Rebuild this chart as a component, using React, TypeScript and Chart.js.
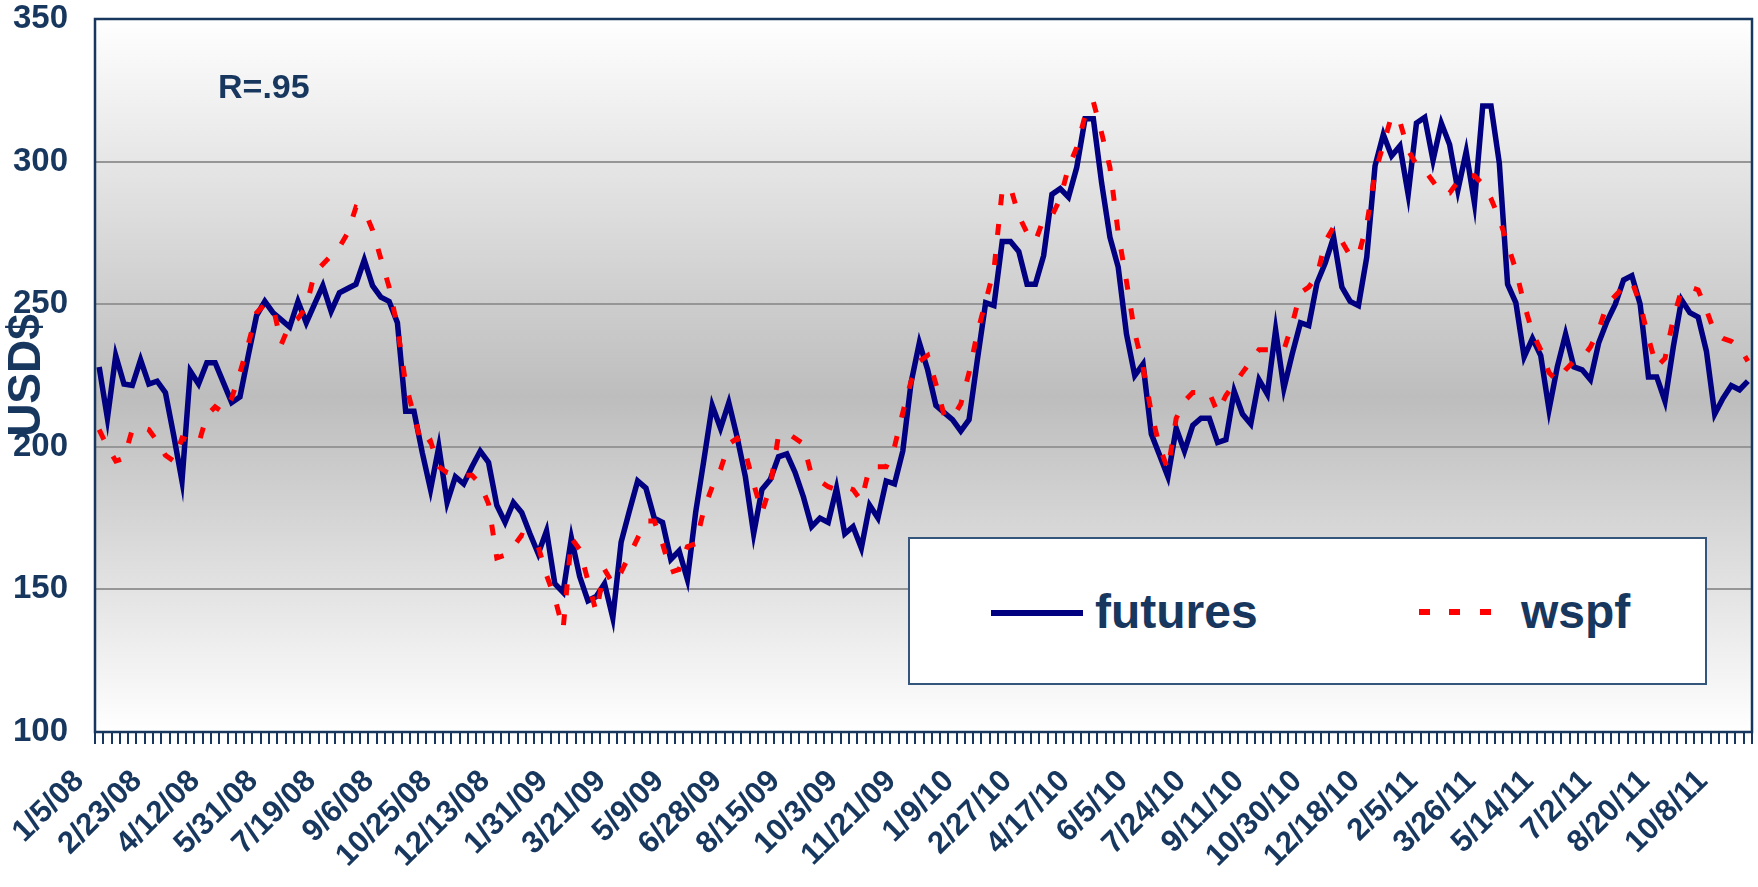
import React, { useEffect, useRef } from 'react';
import { Chart, registerables } from 'chart.js';

Chart.register(...registerables);

const TICK_LABELS = [
  '1/5/08', '2/23/08', '4/12/08', '5/31/08', '7/19/08', '9/6/08', '10/25/08', '12/13/08',
  '1/31/09', '3/21/09', '5/9/09', '6/28/09', '8/15/09', '10/3/09', '11/21/09',
  '1/9/10', '2/27/10', '4/17/10', '6/5/10', '7/24/10', '9/11/10', '10/30/10', '12/18/10',
  '2/5/11', '3/26/11', '5/14/11', '7/2/11', '8/20/11', '10/8/11',
];

const WEEKS = 200;
const CATEGORIES: string[] = Array.from({ length: WEEKS }, (_, i) =>
  i % 7 === 0 && TICK_LABELS[i / 7] ? TICK_LABELS[i / 7] : ''
);

const FUTURES = [
  228, 210, 232, 222, 221.5, 230.5, 222, 223, 219, 204,
  188, 226.5, 222, 229.5, 229.5, 222.5, 215.5, 217.5, 232, 246,
  251, 247, 244.5, 242, 251, 243.5, 250, 256.5, 247.5, 254,
  255.5, 257, 265.5, 256.5, 252.5, 251, 243.5, 212.5, 212.5, 198,
  185, 200, 180.5, 189.5, 187, 193, 198.5, 194.5, 179.5, 173.5,
  180.5, 177, 169.5, 162.5, 170.5, 152, 149, 168, 154.5, 146,
  147.5, 152, 140, 166.5, 177.5, 188, 185.5, 175, 173.5, 160.5,
  163.5, 153.5, 177, 195.5, 214.5, 206.5, 215.5, 203.5, 189.5, 169.5,
  185, 188.5, 196.5, 197.5, 191, 182.5, 172, 175, 173.5, 185.5,
  169.5, 172, 164.5, 179.5, 175, 188, 187, 198.5, 222.5, 236.5,
  227, 214.5, 212, 209.5, 205.5, 209.5, 230.5, 250.5, 249.5, 272,
  272, 268.5, 257, 257, 267, 288.5, 290.5, 287.5, 298, 315,
  315, 292.5, 273.5, 263, 239.5, 225, 229, 204.5, 197, 189.5,
  206.5, 198.5, 207.5, 210, 210, 201.5, 202.5, 219.5, 211.5, 208,
  223.5, 218.5, 241, 220.5, 232.5, 243.5, 242.5, 257.5, 264.5, 273.5,
  256, 251, 249.5, 266.5, 298.5, 309.5, 302, 305.5, 288.5, 313.5,
  315.5, 300.5, 313.5, 306, 290, 303.5, 285.5, 319.5, 319.5, 299.5,
  257, 250.5, 231.5, 238, 232, 213, 228, 239.5, 228, 227,
  223.5, 236.5, 244, 250, 258.5, 260, 250, 224.5, 224.5, 216,
  235, 251.5, 247, 245.5, 233.5, 211.5, 217, 221.5, 220, 223,
];

const WSPF = [
  206, 200, 195, 196, 206, 207, 206, 202, 197, 195,
  203, 202, 201, 211, 214, 212, 217, 226, 236, 247,
  250, 249, 236, 243, 245, 249, 261, 264, 267, 270,
  275, 284, 283, 276, 266, 256, 242, 222, 211, 200,
  202, 193, 191, 190, 190, 190, 187, 180, 161, 162,
  165, 169, 168, 165, 155, 147, 136, 168, 164, 153,
  142, 157, 152, 156, 162, 168, 174, 174, 166, 156,
  157, 165, 166, 178, 186, 192, 201, 203, 198, 187,
  177, 186, 204, 205, 203, 201, 190, 188, 186, 185,
  186, 185, 181, 193, 193, 193, 200, 212, 223, 230,
  232, 222, 211, 210, 215, 226, 240, 251, 262, 290,
  291, 281, 275, 272, 280, 281, 287, 298, 305, 316,
  321, 310, 298, 275, 258, 240, 228, 212, 200, 192,
  210, 216, 219, 219, 219, 212, 218, 222, 226, 230,
  234, 234, 234, 234, 243, 254, 256, 260, 272, 277,
  272, 267, 267, 278, 296, 306, 316, 314, 304, 299,
  297, 293, 289, 289, 293, 295, 295, 292, 287, 280,
  271, 262, 250, 240, 234, 226, 223, 227, 230, 231,
  235, 241, 250, 253, 256, 258, 250, 238, 228, 231,
  245, 255, 256, 255, 248, 240, 238, 237, 235, 230,
];

const Y_MIN = 100;
const Y_MAX = 350;
const Y_STEP = 50;

const TEXT_COLOR = '#17375E';
const FONT = "'Liberation Sans', Arial, sans-serif";

const backgroundPlugin = {
  id: 'plotBackground',
  beforeDraw(chart: any) {
    const { ctx, chartArea } = chart;
    if (!chartArea) return;
    const { left, top, right, bottom } = chartArea;
    const g = ctx.createLinearGradient(0, top, 0, bottom);
    g.addColorStop(0, '#ffffff');
    g.addColorStop(0.53, '#bdbdbd');
    g.addColorStop(1, '#ffffff');
    ctx.save();
    ctx.fillStyle = g;
    ctx.fillRect(left, top, right - left, bottom - top);
    ctx.restore();
  },
  afterDatasetsDraw(chart: any) {
    const { ctx, chartArea } = chart;
    const { left, top, right, bottom } = chartArea;
    ctx.save();
    ctx.strokeStyle = TEXT_COLOR;
    ctx.lineWidth = 2.5;
    ctx.strokeRect(left, top, right - left, bottom - top);
    ctx.restore();
  },
};

function zeroPadding(scale: any) {
  scale.paddingLeft = 0;
  scale.paddingRight = 0;
  scale.paddingTop = 0;
  scale.paddingBottom = 0;
}

export default function App() {
  const canvasRef = useRef<HTMLCanvasElement | null>(null);

  useEffect(() => {
    const canvas = canvasRef.current;
    if (!canvas) return;
    const chart = new Chart(canvas, {
      type: 'line',
      data: {
        labels: CATEGORIES,
        datasets: [
          {
            label: 'futures',
            data: FUTURES,
            borderColor: '#000080',
            borderWidth: 5.5,
            pointRadius: 0,
            tension: 0,
            fill: false,
            order: 2,
          },
          {
            label: 'wspf',
            data: WSPF,
            borderColor: '#FF0000',
            borderWidth: 5,
            borderDash: [11, 19],
            borderCapStyle: 'butt',
            pointRadius: 0,
            tension: 0,
            fill: false,
            order: 1,
          },
        ],
      },
      options: {
        responsive: false,
        animation: false,
        events: [],
        devicePixelRatio: 1,
        layout: { padding: { top: 19, right: 6, left: 0, bottom: 0 } },
        plugins: {
          legend: { display: false },
          tooltip: { enabled: false },
          title: { display: false },
        },
        scales: {
          x: {
            type: 'category',
            offset: true,
            border: { display: false },
            grid: {
              display: true,
              offset: true,
              drawOnChartArea: false,
              drawTicks: true,
              tickLength: 12,
              color: TEXT_COLOR,
              lineWidth: 2,
            },
            ticks: {
              autoSkip: false,
              maxRotation: 45,
              minRotation: 45,
              padding: 19,
              labelOffset: -20,
              color: TEXT_COLOR,
              font: { family: FONT, size: 31, weight: 'bold' },
            },
            afterFit(scale: any) {
              scale.height = 155;
              zeroPadding(scale);
            },
          },
          y: {
            min: Y_MIN,
            max: Y_MAX,
            border: { display: false },
            grid: {
              drawTicks: false,
              lineWidth: 2,
              color: (c: any) =>
                c.tick && (c.tick.value === Y_MIN || c.tick.value === Y_MAX)
                  ? 'rgba(0,0,0,0)'
                  : '#969696',
            },
            ticks: {
              stepSize: Y_STEP,
              padding: 27,
              color: TEXT_COLOR,
              font: { family: FONT, size: 33, weight: 'bold' },
            },
            title: {
              display: true,
              text: 'USD$',
              color: TEXT_COLOR,
              font: { family: FONT, size: 46, weight: 'bold' },
              padding: { top: 0, bottom: 0 },
            },
            afterFit(scale: any) {
              scale.width = 95;
              zeroPadding(scale);
            },
          },
        },
      },
      plugins: [backgroundPlugin],
    });
    return () => chart.destroy();
  }, []);

  const text: React.CSSProperties = {
    position: 'absolute',
    color: TEXT_COLOR,
    fontFamily: FONT,
    fontWeight: 'bold',
    whiteSpace: 'nowrap',
  };

  return (
    <div style={{ position: 'absolute', left: 0, top: 0, width: 1758, height: 887, background: '#ffffff' }}>
      <canvas ref={canvasRef} width={1758} height={887} style={{ position: 'absolute', left: 0, top: 0 }} />
      <div style={{ ...text, left: 218, top: 69, fontSize: 34, lineHeight: '34px' }}>R=.95</div>
      <div
        style={{
          position: 'absolute',
          left: 908,
          top: 537,
          width: 799,
          height: 148,
          boxSizing: 'border-box',
          border: '2px solid #34557c',
          background: '#ffffff',
        }}
      />
      <div style={{ position: 'absolute', left: 991, top: 610, width: 92, height: 6, background: '#000080' }} />
      <div style={{ ...text, left: 1095, top: 588, fontSize: 48, lineHeight: '48px' }}>futures</div>
      <div style={{ position: 'absolute', left: 1419, top: 609, width: 11, height: 6, background: '#FF0000' }} />
      <div style={{ position: 'absolute', left: 1449, top: 609, width: 11, height: 6, background: '#FF0000' }} />
      <div style={{ position: 'absolute', left: 1480, top: 609, width: 11, height: 6, background: '#FF0000' }} />
      <div style={{ ...text, left: 1521, top: 588, fontSize: 48, lineHeight: '48px' }}>wspf</div>
    </div>
  );
}
